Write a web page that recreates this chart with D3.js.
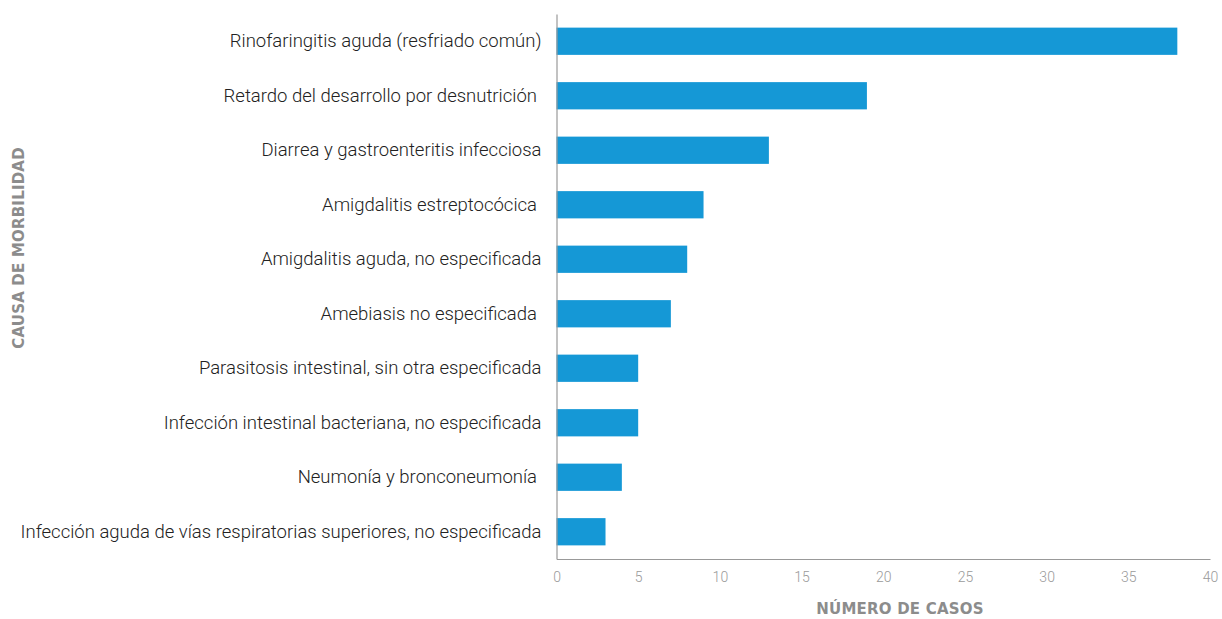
<!DOCTYPE html>
<html><head><meta charset="utf-8">
<script src="https://cdn.jsdelivr.net/npm/d3@7"></script>
<style>body{margin:0;background:#fff}</style>
</head><body>
<svg id="c" width="1222" height="619"></svg>
<script>
const categories = [
  "Rinofaringitis aguda (resfriado común)",
  "Retardo del desarrollo por desnutrición ",
  "Diarrea y gastroenteritis infecciosa",
  "Amigdalitis estreptocócica ",
  "Amigdalitis aguda, no especificada",
  "Amebiasis no especificada ",
  "Parasitosis intestinal, sin otra especificada",
  "Infección intestinal bacteriana, no especificada",
  "Neumonía y bronconeumonía ",
  "Infección aguda de vías respiratorias superiores, no especificada"
];
const values = [38, 19, 13, 9, 8, 7, 5, 5, 4, 3];
const xTicks = [0, 5, 10, 15, 20, 25, 30, 35, 40];
const xTitle = "NÚMERO DE CASOS";
const yTitle = "CAUSA DE MORBILIDAD";

const svg = d3.select("#c");
const m = {left: 556.5, right: 1210, top: 14, bottom: 559};
const x = d3.scaleLinear().domain([0, 40]).range([m.left, m.right]);
const y = d3.scaleBand().domain(categories).range([m.top, m.bottom]).paddingInner(0.5).paddingOuter(0.25);

svg.append("g").selectAll("rect").data(values).join("rect")
  .attr("x", x(0)).attr("y", (d, i) => y(categories[i]))
  .attr("width", d => x(d) - x(0)).attr("height", y.bandwidth())
  .attr("fill", "#1598d6");

const xa = svg.append("g").attr("transform", `translate(0,${m.bottom})`)
  .call(d3.axisBottom(x).tickValues(xTicks).tickSize(0).tickPadding(13));
xa.select(".domain").attr("stroke", "#999").attr("stroke-width", 1.2);
xa.selectAll("text").attr("font-family", "Roboto").attr("font-weight", 300)
  .attr("font-size", 14).attr("fill", "#9a9a9a");

const ya = svg.append("g").attr("transform", `translate(${m.left},0)`)
  .call(d3.axisLeft(y).tickSize(0).tickPadding(15));
ya.select(".domain").attr("stroke", "#999").attr("stroke-width", 1.2);
ya.selectAll("text").attr("font-family", "Roboto").attr("font-weight", 300)
  .attr("font-size", 18.5).attr("fill", "#222").style("white-space", "pre");

svg.append("text").attr("x", 900).attr("y", 614)
  .attr("text-anchor", "middle").attr("font-family", "DejaVu Sans").attr("font-weight", 700)
  .attr("font-size", 15).attr("letter-spacing", 0.2).attr("fill", "#8c8c8c").text(xTitle);

svg.append("text").attr("transform", `translate(24,248) rotate(-90)`)
  .attr("text-anchor", "middle").attr("font-family", "DejaVu Sans").attr("font-weight", 700)
  .attr("font-size", 15).attr("letter-spacing", 0.2).attr("fill", "#8c8c8c").text(yTitle);
</script>
</body></html>
